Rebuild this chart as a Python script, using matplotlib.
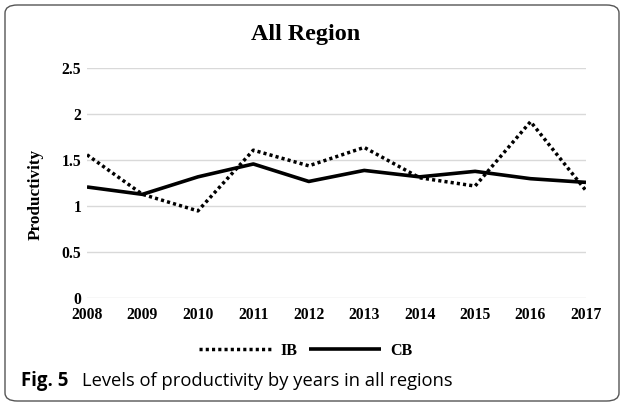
import matplotlib
matplotlib.use("Agg")
import matplotlib.pyplot as plt
from matplotlib.patches import FancyBboxPatch

years = [2008, 2009, 2010, 2011, 2012, 2013, 2014, 2015, 2016, 2017]
ib = [1.56, 1.13, 0.95, 1.61, 1.44, 1.64, 1.31, 1.22, 1.92, 1.17]
cb = [1.21, 1.13, 1.32, 1.46, 1.27, 1.39, 1.32, 1.38, 1.30, 1.26]
yticks = [0, 0.5, 1, 1.5, 2, 2.5]
ytick_labels = ["0", "0.5", "1", "1.5", "2", "2.5"]

W, H = 624, 404
fig = plt.figure(figsize=(W / 100, H / 100), dpi=100)
fig.patch.set_facecolor("white")

serif = "Liberation Serif"

ax = fig.add_axes([87 / W, 1 - 298.3 / H, (586 - 87) / W, (298.3 - 68.3) / H])
ax.plot(years, ib, color="black", lw=2.5, linestyle=(0, (0.9, 0.9)),
        dash_capstyle="butt", label="IB", zorder=3)
ax.plot(years, cb, color="black", lw=2.6, solid_capstyle="butt", label="CB", zorder=3)

ax.set_xlim(years[0], years[-1])
ax.set_ylim(0, 2.5)
ax.set_yticks(yticks)
ax.set_yticklabels(ytick_labels)
ax.set_xticks(years)
ax.set_xticklabels([str(y) for y in years])
for s in ax.spines.values():
    s.set_visible(False)
ax.grid(axis="y", color="#d9d9d9", lw=1.0, zorder=0)
ax.set_axisbelow(True)
ax.tick_params(axis="both", length=0, labelsize=11.3)
ax.tick_params(axis="y", pad=4)
ax.tick_params(axis="x", pad=6.5)
for lab in ax.get_xticklabels() + ax.get_yticklabels():
    lab.set_fontfamily(serif)
    lab.set_fontweight("bold")

fig.text(306 / W, 1 - 40 / H, "All Region", ha="center", va="baseline",
         fontfamily=serif, fontweight="bold", fontsize=17.4)
fig.text(36 / W, 1 - 194 / H, "Productivity", ha="center", va="center",
         rotation=90, fontfamily=serif, fontweight="bold", fontsize=12.3)

leg = fig.legend(loc="center", bbox_to_anchor=(306 / W, 1 - 351 / H), ncol=2,
                 frameon=False, handlelength=4.5, handletextpad=0.62,
                 columnspacing=0.7, prop={"family": serif, "weight": "bold", "size": 11.5})

fig.text(21 / W, 1 - 386 / H, "Fig. 5", ha="left", va="baseline",
         fontfamily="Open Sans", fontweight="bold", fontsize=13.4)
fig.text(82.5 / W, 1 - 386 / H, "Levels of productivity by years in all regions",
         ha="left", va="baseline", fontfamily="Open Sans", fontsize=13.2)

border = FancyBboxPatch((5 / W, 3 / H), (W - 10) / W, (H - 8) / H,
                        boxstyle="round,pad=0,rounding_size=0.02",
                        transform=fig.transFigure, facecolor="none",
                        edgecolor="#555555", lw=1.0, zorder=10)
fig.patches.append(border)

fig.savefig("out.png", dpi=100)
